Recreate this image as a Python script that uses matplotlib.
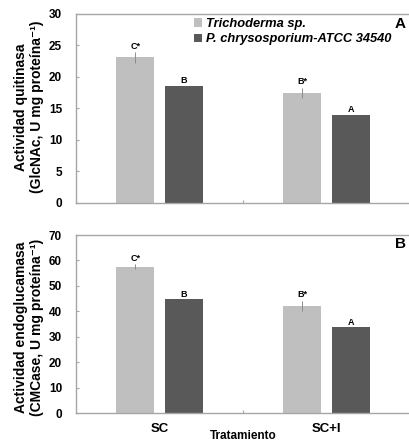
import matplotlib
matplotlib.use("Agg")
import matplotlib.pyplot as plt
import numpy as np

categories = ["SC", "SC+I"]
series_names = ["Trichoderma sp.", "P. chrysosporium-ATCC 34540"]

quit_tricho = [23.1, 17.4]
quit_tricho_err = [0.8, 0.8]
quit_phan = [18.6, 13.9]
quit_phan_err = [0.0, 0.0]
quit_letters_tricho = ["C*", "B*"]
quit_letters_phan = ["B", "A"]

endo_tricho = [57.5, 42.2]
endo_tricho_err = [1.0, 2.0]
endo_phan = [44.7, 33.7]
endo_phan_err = [0.0, 0.0]
endo_letters_tricho = ["C*", "B*"]
endo_letters_phan = ["B", "A"]

light = "#BFBFBF"
dark = "#595959"
spine_c = "#A6A6A6"

W, H = 409, 441
fig = plt.figure(figsize=(W / 100, H / 100), dpi=100)
plt.rcParams['font.family'] = ['Liberation Sans', 'DejaVu Sans']


def make_ax(top, bottom):
    left, right = 76, 410
    return fig.add_axes([left / W, 1 - bottom / H, (right - left) / W, (bottom - top) / H])


axA = make_ax(14, 203)
axB = make_ax(235, 413)

x = np.arange(len(categories))
bw = 0.228
off = 0.145


def draw(ax, t, te, p, pe, lt, lp, ymax, step, lab_pad):
    b1 = ax.bar(x - off, t, bw, color=light, yerr=te,
                error_kw=dict(ecolor="#8C8C8C", elinewidth=0.7, capsize=0), zorder=2)
    b2 = ax.bar(x + off, p, bw, color=dark, zorder=2)
    for i in range(len(x)):
        ax.text(x[i] - off, t[i] + te[i] + lab_pad, lt[i], ha="center", va="bottom",
                fontsize=6.5, fontweight="bold")
        ax.text(x[i] + off, p[i] + pe[i] + lab_pad * 0.5, lp[i], ha="center", va="bottom",
                fontsize=6.5, fontweight="bold")
    ax.set_xlim(-0.5, 1.5)
    ax.set_ylim(0, ymax)
    ax.set_yticks(np.arange(0, ymax + 1, step))
    ax.tick_params(axis="y", direction="in", length=2, color=spine_c, labelsize=8.5, pad=10)
    for lbl in ax.get_yticklabels():
        lbl.set_fontweight("bold")
    ax.set_xticks([0.5])
    ax.set_xticklabels([])
    ax.tick_params(axis="x", direction="in", length=2, color=spine_c)
    for s in ["left", "bottom", "top"]:
        ax.spines[s].set_color(spine_c)
        ax.spines[s].set_linewidth(1.0)
    ax.spines["right"].set_visible(False)
    return b1, b2


b1, b2 = draw(axA, quit_tricho, quit_tricho_err, quit_phan, quit_phan_err,
              quit_letters_tricho, quit_letters_phan, 30, 5, 0.3)
draw(axB, endo_tricho, endo_tricho_err, endo_phan, endo_phan_err,
     endo_letters_tricho, endo_letters_phan, 70, 10, 0.6)

fig.text(29 / W, 1 - 107 / H, "Actividad quitinasa\n(GlcNAc, U mg proteína⁻¹)",
         rotation=90, ha="center", va="center", multialignment="center",
         fontsize=10, fontweight="bold", linespacing=1.1)
fig.text(29 / W, 1 - 327 / H, "Actividad endoglucamasa\n(CMCase, U mg proteína⁻¹)",
         rotation=90, ha="center", va="center", multialignment="center",
         fontsize=10, fontweight="bold", linespacing=1.1)

leg = axA.legend([b1, b2], series_names, loc="upper left", bbox_to_anchor=(0.33, 1.02),
                 frameon=False, handlelength=0.6, handleheight=0.6, handletextpad=0.35,
                 labelspacing=0.25, borderaxespad=0.2,
                 prop=dict(size=9.3, weight="bold", style="italic"))

fig.text(400 / W, 1 - 24 / H, "A", fontsize=11, fontweight="bold", ha="center", va="center")
fig.text(400 / W, 1 - 244 / H, "B", fontsize=11, fontweight="bold", ha="center", va="center")

for i, c in enumerate(categories):
    axB.text(x[i], -0.055, c, transform=axB.get_xaxis_transform(), ha="center", va="top",
             fontsize=9.5, fontweight="bold")
axB.text(0.5, -0.095, "Tratamiento", transform=axB.get_xaxis_transform(), ha="center", va="top",
         fontsize=8.5, fontweight="bold")

fig.savefig("out.png", dpi=100)
